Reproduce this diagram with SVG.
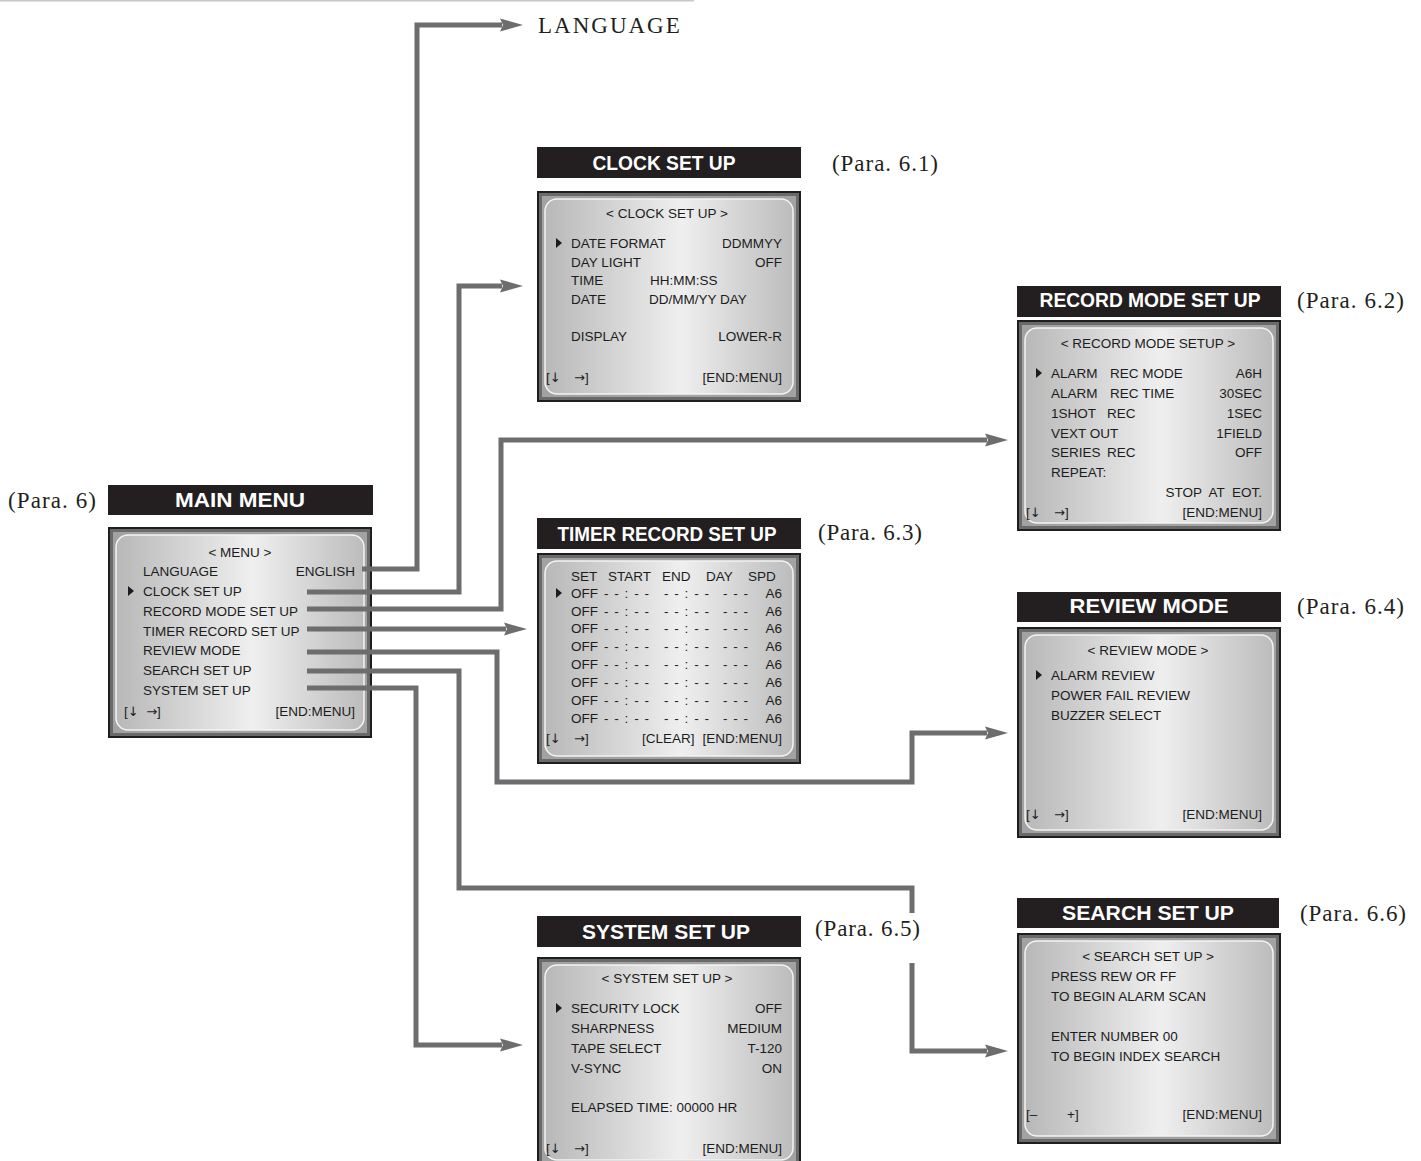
<svg xmlns="http://www.w3.org/2000/svg" xmlns:xlink="http://www.w3.org/1999/xlink" width="1421" height="1161" viewBox="0 0 1421 1161">
<style>
.t{font-family:"Liberation Sans",Arial,sans-serif;font-size:13.5px;fill:#1c1c1c;white-space:pre}
.ar{font-family:"DejaVu Sans",sans-serif;font-size:13px}
.e{text-anchor:end}
.m{text-anchor:middle}
.ttl{font-family:"Liberation Sans",Arial,sans-serif;font-weight:bold;font-size:20px;fill:#ffffff;text-anchor:middle}
.bar{fill:#231f20}
.para{font-family:"Liberation Serif","Times New Roman",serif;font-size:23px;fill:#231f20}
.c{fill:none;stroke:#6d6d6f;stroke-width:5;stroke-linejoin:miter}
.frame{fill:#a2a2a2;stroke:#1e1e1e;stroke-width:2}
.frame2{fill:none;stroke:#6a6a6a;stroke-width:3}
.scr{fill:url(#g);stroke:#f4f4f4;stroke-width:1.5}
.ptr{fill:#1c1c1c}
</style>
<defs>
<linearGradient id="g" x1="0" y1="0" x2="1" y2="0">
<stop offset="0" stop-color="#b8b8b8"/>
<stop offset="0.55" stop-color="#efefef"/>
<stop offset="1" stop-color="#bcbcbc"/>
</linearGradient>
<g id="box">
<rect class="frame" x="1" y="1" width="262" height="209"/>
<rect class="frame2" x="3.5" y="3.5" width="257" height="204"/>
<rect class="scr" x="8" y="8" width="248" height="195" rx="12"/>
</g>
<marker id="ah" markerUnits="userSpaceOnUse" markerWidth="24" markerHeight="14" refX="2" refY="7" orient="auto" overflow="visible">
<path d="M0,0.5 L23,7 L0,13.5 L3,7 Z" fill="#6d6d6f"/>
</marker>
</defs>

<line x1="0" y1="0.8" x2="694" y2="0.8" stroke="#c8c8c8" stroke-width="1.6"/>

<g id="node-language">
<text class="para" x="538" y="33" font-size="26" letter-spacing="2">LANGUAGE</text>
</g>

<g id="node-main-menu">
<text class="para" x="8" y="508" textLength="88">(Para. 6)</text>
<rect class="bar" x="108" y="485" width="265" height="30"/>
<text class="ttl" x="240" y="507" textLength="130" lengthAdjust="spacingAndGlyphs">MAIN MENU</text>
<use xlink:href="#box" x="108" y="527"/>
<text class="t m" x="240" y="557">&lt; MENU &gt;</text>
<text class="t" x="143" y="576">LANGUAGE</text><text class="t e" x="355" y="576">ENGLISH</text>
<path class="ptr" d="M128,586 L134,591 L128,596 Z"/>
<text class="t" x="143" y="596">CLOCK SET UP</text>
<text class="t" x="143" y="616">RECORD MODE SET UP</text>
<text class="t" x="143" y="636">TIMER RECORD SET UP</text>
<text class="t" x="143" y="655">REVIEW MODE</text>
<text class="t" x="143" y="675">SEARCH SET UP</text>
<text class="t" x="143" y="695">SYSTEM SET UP</text>
<text class="t" x="124" y="716">[<tspan class="ar">↓</tspan>  <tspan class="ar">→</tspan>]</text><text class="t e" x="355" y="716">[END:MENU]</text>
</g>

<g id="node-clock">
<text class="para" x="832" y="171" textLength="106">(Para. 6.1)</text>
<rect class="bar" x="537" y="147" width="264" height="31"/>
<text class="ttl" x="664" y="170" textLength="143" lengthAdjust="spacingAndGlyphs">CLOCK SET UP</text>
<use xlink:href="#box" x="537" y="191"/>
<text class="t m" x="667" y="218">&lt; CLOCK SET UP &gt;</text>
<path class="ptr" d="M556,238 L562,243 L556,248 Z"/>
<text class="t" x="571" y="248">DATE FORMAT</text><text class="t e" x="782" y="248">DDMMYY</text>
<text class="t" x="571" y="267">DAY LIGHT</text><text class="t e" x="782" y="267">OFF</text>
<text class="t" x="571" y="285">TIME</text><text class="t" x="650" y="285">HH:MM:SS</text>
<text class="t" x="571" y="304">DATE</text><text class="t" x="649" y="304">DD/MM/YY DAY</text>
<text class="t" x="571" y="341">DISPLAY</text><text class="t e" x="782" y="341">LOWER-R</text>
<text class="t" x="546" y="382">[<tspan class="ar">↓</tspan></text><text class="t" x="574" y="382"><tspan class="ar">→</tspan>]</text><text class="t e" x="782" y="382">[END:MENU]</text>
</g>

<g id="node-record-mode">
<text class="para" x="1297" y="308" textLength="107">(Para. 6.2)</text>
<rect class="bar" x="1017" y="286" width="264" height="31"/>
<text class="ttl" x="1150" y="307" textLength="221" lengthAdjust="spacingAndGlyphs">RECORD MODE SET UP</text>
<use xlink:href="#box" x="1017" y="320"/>
<text class="t m" x="1148" y="348">&lt; RECORD MODE SETUP &gt;</text>
<path class="ptr" d="M1036,368 L1042,373 L1036,378 Z"/>
<text class="t" x="1051" y="378">ALARM</text><text class="t" x="1110" y="378">REC MODE</text><text class="t e" x="1262" y="378">A6H</text>
<text class="t" x="1051" y="398">ALARM</text><text class="t" x="1110" y="398">REC TIME</text><text class="t e" x="1262" y="398">30SEC</text>
<text class="t" x="1051" y="418">1SHOT</text><text class="t" x="1107" y="418">REC</text><text class="t e" x="1262" y="418">1SEC</text>
<text class="t" x="1051" y="438">VEXT OUT</text><text class="t e" x="1262" y="438">1FIELD</text>
<text class="t" x="1051" y="457">SERIES</text><text class="t" x="1107" y="457">REC</text><text class="t e" x="1262" y="457">OFF</text>
<text class="t" x="1051" y="477">REPEAT:</text>
<text class="t e" x="1262" y="497">STOP  AT  EOT.</text>
<text class="t" x="1026" y="517">[<tspan class="ar">↓</tspan></text><text class="t" x="1054" y="517"><tspan class="ar">→</tspan>]</text><text class="t e" x="1262" y="517">[END:MENU]</text>
</g>

<g id="node-timer-record">
<text class="para" x="818" y="540" textLength="104">(Para. 6.3)</text>
<rect class="bar" x="537" y="518" width="264" height="31"/>
<text class="ttl" x="667" y="541" textLength="219" lengthAdjust="spacingAndGlyphs">TIMER RECORD SET UP</text>
<use xlink:href="#box" x="537" y="553"/>
<text class="t" x="571" y="581">SET</text><text class="t" x="608" y="581">START</text><text class="t" x="662" y="581">END</text><text class="t" x="706" y="581">DAY</text><text class="t" x="748" y="581">SPD</text>
<path class="ptr" d="M556,588 L562,593 L556,598 Z"/>
<g id="timer-rows">
<text class="t" x="571" y="598">OFF</text><text class="t" x="604" y="598" textLength="45">- - : - -</text><text class="t" x="664" y="598" textLength="45">- - : - -</text><text class="t" x="723" y="598" textLength="25">- - -</text><text class="t e" x="782" y="598">A6</text>
<text class="t" x="571" y="616">OFF</text><text class="t" x="604" y="616" textLength="45">- - : - -</text><text class="t" x="664" y="616" textLength="45">- - : - -</text><text class="t" x="723" y="616" textLength="25">- - -</text><text class="t e" x="782" y="616">A6</text>
<text class="t" x="571" y="633">OFF</text><text class="t" x="604" y="633" textLength="45">- - : - -</text><text class="t" x="664" y="633" textLength="45">- - : - -</text><text class="t" x="723" y="633" textLength="25">- - -</text><text class="t e" x="782" y="633">A6</text>
<text class="t" x="571" y="651">OFF</text><text class="t" x="604" y="651" textLength="45">- - : - -</text><text class="t" x="664" y="651" textLength="45">- - : - -</text><text class="t" x="723" y="651" textLength="25">- - -</text><text class="t e" x="782" y="651">A6</text>
<text class="t" x="571" y="669">OFF</text><text class="t" x="604" y="669" textLength="45">- - : - -</text><text class="t" x="664" y="669" textLength="45">- - : - -</text><text class="t" x="723" y="669" textLength="25">- - -</text><text class="t e" x="782" y="669">A6</text>
<text class="t" x="571" y="687">OFF</text><text class="t" x="604" y="687" textLength="45">- - : - -</text><text class="t" x="664" y="687" textLength="45">- - : - -</text><text class="t" x="723" y="687" textLength="25">- - -</text><text class="t e" x="782" y="687">A6</text>
<text class="t" x="571" y="705">OFF</text><text class="t" x="604" y="705" textLength="45">- - : - -</text><text class="t" x="664" y="705" textLength="45">- - : - -</text><text class="t" x="723" y="705" textLength="25">- - -</text><text class="t e" x="782" y="705">A6</text>
<text class="t" x="571" y="723">OFF</text><text class="t" x="604" y="723" textLength="45">- - : - -</text><text class="t" x="664" y="723" textLength="45">- - : - -</text><text class="t" x="723" y="723" textLength="25">- - -</text><text class="t e" x="782" y="723">A6</text>
</g>
<text class="t" x="546" y="743">[<tspan class="ar">↓</tspan></text><text class="t" x="574" y="743"><tspan class="ar">→</tspan>]</text><text class="t" x="642" y="743">[CLEAR]</text><text class="t e" x="782" y="743">[END:MENU]</text>
</g>

<g id="node-review-mode">
<text class="para" x="1297" y="614" textLength="107">(Para. 6.4)</text>
<rect class="bar" x="1017" y="592" width="264" height="30"/>
<text class="ttl" x="1149" y="613" textLength="159" lengthAdjust="spacingAndGlyphs">REVIEW MODE</text>
<use xlink:href="#box" x="1017" y="627"/>
<text class="t m" x="1148" y="655">&lt; REVIEW MODE &gt;</text>
<path class="ptr" d="M1036,670 L1042,675 L1036,680 Z"/>
<text class="t" x="1051" y="680">ALARM REVIEW</text>
<text class="t" x="1051" y="700">POWER FAIL REVIEW</text>
<text class="t" x="1051" y="720">BUZZER SELECT</text>
<text class="t" x="1026" y="819">[<tspan class="ar">↓</tspan></text><text class="t" x="1054" y="819"><tspan class="ar">→</tspan>]</text><text class="t e" x="1262" y="819">[END:MENU]</text>
</g>

<g id="node-search-setup">
<text class="para" x="1300" y="921" textLength="106">(Para. 6.6)</text>
<rect class="bar" x="1017" y="898" width="262" height="30"/>
<text class="ttl" x="1148" y="920" textLength="172" lengthAdjust="spacingAndGlyphs">SEARCH SET UP</text>
<use xlink:href="#box" x="1017" y="933"/>
<text class="t m" x="1148" y="961">&lt; SEARCH SET UP &gt;</text>
<text class="t" x="1051" y="981">PRESS REW OR FF</text>
<text class="t" x="1051" y="1001">TO BEGIN ALARM SCAN</text>
<text class="t" x="1051" y="1041">ENTER NUMBER 00</text>
<text class="t" x="1051" y="1061">TO BEGIN INDEX SEARCH</text>
<text class="t" x="1026" y="1119">[–</text><text class="t" x="1067" y="1119">+]</text><text class="t e" x="1262" y="1119">[END:MENU]</text>
</g>

<g id="node-system-setup">
<text class="para" x="815" y="936" textLength="105">(Para. 6.5)</text>
<rect class="bar" x="537" y="916" width="264" height="31"/>
<text class="ttl" x="666" y="939" textLength="168" lengthAdjust="spacingAndGlyphs">SYSTEM SET UP</text>
<use xlink:href="#box" x="537" y="957"/>
<text class="t m" x="667" y="983">&lt; SYSTEM SET UP &gt;</text>
<path class="ptr" d="M556,1003 L562,1008 L556,1013 Z"/>
<text class="t" x="571" y="1013">SECURITY LOCK</text><text class="t e" x="782" y="1013">OFF</text>
<text class="t" x="571" y="1033">SHARPNESS</text><text class="t e" x="782" y="1033">MEDIUM</text>
<text class="t" x="571" y="1053">TAPE SELECT</text><text class="t e" x="782" y="1053">T-120</text>
<text class="t" x="571" y="1073">V-SYNC</text><text class="t e" x="782" y="1073">ON</text>
<text class="t" x="571" y="1112">ELAPSED TIME: 00000 HR</text>
<text class="t" x="546" y="1153">[<tspan class="ar">↓</tspan></text><text class="t" x="574" y="1153"><tspan class="ar">→</tspan>]</text><text class="t e" x="782" y="1153">[END:MENU]</text>
</g>

<g id="connectors">
<path class="c" d="M362,569 H417 V25 H502" marker-end="url(#ah)"/>
<path class="c" d="M307,592 H459 V286 H502" marker-end="url(#ah)"/>
<path class="c" d="M307,609 H501 V440 H987" marker-end="url(#ah)"/>
<path class="c" d="M307,629 H506" marker-end="url(#ah)"/>
<path class="c" d="M307,652 H497 V782 H912 V733 H987" marker-end="url(#ah)"/>
<path class="c" d="M307,671 H459 V888 H912 V913"/>
<path class="c" d="M912,963 V1051 H987" marker-end="url(#ah)"/>
<path class="c" d="M307,688 H416 V1045 H502" marker-end="url(#ah)"/>
</g>
</svg>
